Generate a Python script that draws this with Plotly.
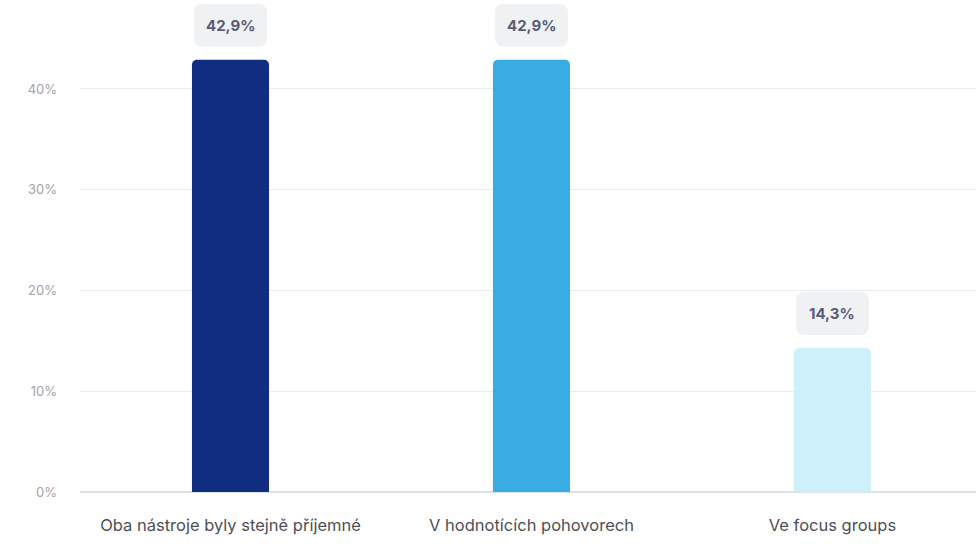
import plotly.graph_objects as go

# Survey results: where respondents felt more comfortable
categories = ["Oba nástroje byly stejně příjemné", "V hodnotících pohovorech", "Ve focus groups"]
values = [42.9, 42.9, 14.3]
value_labels = ["42,9%", "42,9%", "14,3%"]
bar_colors = ["#112d7f", "#39ace4", "#cef0fa"]
y_ticks = [0, 10, 20, 30, 40]
y_tick_labels = ["0%", "10%", "20%", "30%", "40%"]

FONT = "Inter, Roboto, sans-serif"

fig = go.Figure(
    go.Bar(
        x=categories,
        y=values,
        marker=dict(color=bar_colors, cornerradius=5, line=dict(width=0)),
        width=0.256,
        hoverinfo="skip",
    )
)


def rounded_box(w, y_bottom, y_top, r):
    """SVG path (pixel units relative to anchor) of a rounded rectangle."""
    x0, x1 = -w / 2, w / 2
    return (
        f"M {x0 + r},{y_bottom} L {x1 - r},{y_bottom} Q {x1},{y_bottom} {x1},{y_bottom + r} "
        f"L {x1},{y_top - r} Q {x1},{y_top} {x1 - r},{y_top} "
        f"L {x0 + r},{y_top} Q {x0},{y_top} {x0},{y_top - r} "
        f"L {x0},{y_bottom + r} Q {x0},{y_bottom} {x0 + r},{y_bottom} Z"
    )


# Value badges above each bar
for i, (v, lab) in enumerate(zip(values, value_labels)):
    fig.add_shape(
        type="path",
        xref="x", yref="y",
        xsizemode="pixel", ysizemode="pixel",
        xanchor=i, yanchor=v,
        path=rounded_box(73, 13, 56, 9),
        fillcolor="#f0f1f3",
        line=dict(width=0),
        layer="above",
    )
    fig.add_annotation(
        x=i, y=v, xref="x", yref="y",
        text=f"<b>{lab}</b>",
        showarrow=False,
        yshift=34.5,
        font=dict(family=FONT, size=15, color="#585c78"),
    )

fig.update_layout(
    width=976,
    height=556,
    margin=dict(l=80, r=0, t=0, b=64),
    paper_bgcolor="white",
    plot_bgcolor="white",
    showlegend=False,
    bargap=0.74,
    font=dict(family=FONT),
    xaxis=dict(
        range=[-0.5, 2.477],
        showgrid=False,
        showline=False,
        ticks="",
        ticklabelstandoff=21,
        tickfont=dict(family=FONT, size=16.5, color="#4f4f55"),
    ),
    yaxis=dict(
        range=[0, 48.83],
        tickvals=y_ticks,
        ticktext=y_tick_labels,
        showgrid=True,
        gridcolor="#e9ecf1",
        gridwidth=1,
        zeroline=True,
        zerolinecolor="#dde2ea",
        zerolinewidth=1.5,
        showline=False,
        ticks="",
        ticklabelstandoff=22,
        tickfont=dict(family=FONT, size=13, color="#a2a3ab"),
    ),
)

fig.write_html("out.html")
